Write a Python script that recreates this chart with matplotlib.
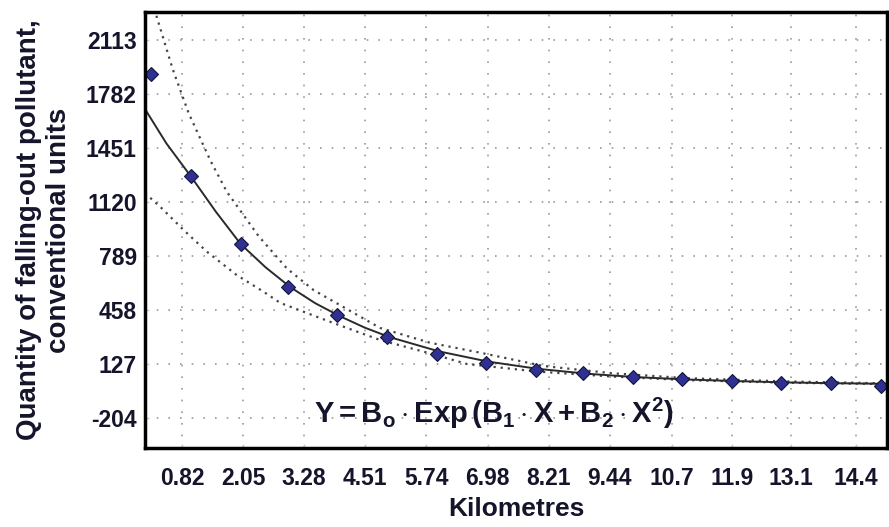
import matplotlib.pyplot as plt

plt.rcParams['font.family'] = ['Liberation Sans', 'DejaVu Sans']
plt.rcParams['axes.unicode_minus'] = False
plt.rcParams['mathtext.fontset'] = 'custom'
plt.rcParams['mathtext.rm'] = 'Liberation Sans:bold'
plt.rcParams['mathtext.it'] = 'Liberation Sans:bold'
plt.rcParams['mathtext.bf'] = 'Liberation Sans:bold'

# Observed points (km, conventional units)
obs_km = [0.2, 1.0, 2.0, 2.95, 3.95, 4.95, 5.95, 6.95, 7.95, 8.9, 9.9, 10.9, 11.9, 12.9, 13.9, 14.9]
obs_val = [1903, 1281, 862, 597, 427, 290, 186, 135, 90, 70, 45, 35, 23, 12, 10, -5]

# Fitted curve
fit_km = [0.07, 0.5, 1.0, 1.5, 2.0, 2.5, 3.0, 3.5, 4.0, 4.5, 5.0, 6.0, 7.0, 8.0, 9.0, 10.0, 11.0, 12.0, 13.0, 14.0, 15.1]
fit_val = [1690, 1480, 1275, 1060, 862, 720, 598, 500, 420, 350, 292, 204, 141, 97, 67, 46, 32, 22, 14, 9, 5]

# Confidence band (upper / lower)
up_km = [0.3, 0.63, 0.95, 1.18, 1.4, 1.72, 2.36, 2.93, 3.47, 4.81, 5.82, 6.8, 8.1, 9.5, 11.0, 13.0, 15.1]
up_val = [2262, 1933, 1665, 1512, 1367, 1183, 911, 713, 580, 348, 257, 198, 115, 70, 40, 20, 8]
lo_km = [0.07, 0.41, 0.85, 1.32, 1.92, 2.46, 2.8, 3.8, 4.81, 5.82, 6.56, 8.0, 9.5, 11.0, 13.0, 15.1]
lo_val = [1175, 1081, 948, 815, 672, 570, 501, 386, 274, 192, 127, 80, 50, 28, 12, 4]

xticks = [0.82, 2.05, 3.28, 4.51, 5.74, 6.98, 8.21, 9.44, 10.7, 11.9, 13.1, 14.4]
xticklabels = ['0.82', '2.05', '3.28', '4.51', '5.74', '6.98', '8.21', '9.44', '10.7', '11.9', '13.1', '14.4']
yticks = [-204, 127, 458, 789, 1120, 1451, 1782, 2113]

txt_color = '#14142a'

fig = plt.figure(figsize=(8.89, 5.27), dpi=100)
ax = fig.add_axes([145 / 889, 79 / 527, 742 / 889, 436 / 527])

ax.plot(up_km, up_val, linestyle=(0, (1, 2.2)), color='#444444', lw=1.6)
ax.plot(lo_km, lo_val, linestyle=(0, (1, 2.2)), color='#444444', lw=1.6)
ax.plot(fit_km, fit_val, color='#2a2a2a', lw=1.4)
ax.plot(obs_km, obs_val, linestyle='none', marker='D', markersize=7,
        markerfacecolor='#2e3192', markeredgecolor='#15153a', markeredgewidth=0.8)

ax.set_xlim(0.07, 15.03)
ax.set_ylim(-388, 2285)
ax.set_xticks(xticks)
ax.set_xticklabels(xticklabels)
ax.set_yticks(yticks)
ax.grid(True, linestyle=(0, (1, 6)), color='#9a9a9a', lw=1.2)

for sp in ax.spines.values():
    sp.set_linewidth(2.5)
    sp.set_color('black')
ax.tick_params(length=3, width=1, color='#cccccc', direction='in',
               labelsize=16.5, labelcolor=txt_color)
ax.tick_params(axis='x', pad=14)
ax.tick_params(axis='y', pad=6)
for lab in ax.get_xticklabels() + ax.get_yticklabels():
    lab.set_fontweight('bold')

ax.set_xlabel('Kilometres', fontsize=19, fontweight='bold', color=txt_color, labelpad=5)
ax.set_ylabel('Quantity of falling-out pollutant,\nconventional units', fontsize=20,
              fontweight='bold', color=txt_color, labelpad=10, linespacing=1.2)

ax.text(0.47, 0.08, r'$\mathbf{Y = B_o \cdot Exp\,(B_1 \cdot X + B_2 \cdot X^2)}$',
        transform=ax.transAxes, ha='center', va='center', fontsize=21, color=txt_color)

plt.savefig('out.png', dpi=100)
